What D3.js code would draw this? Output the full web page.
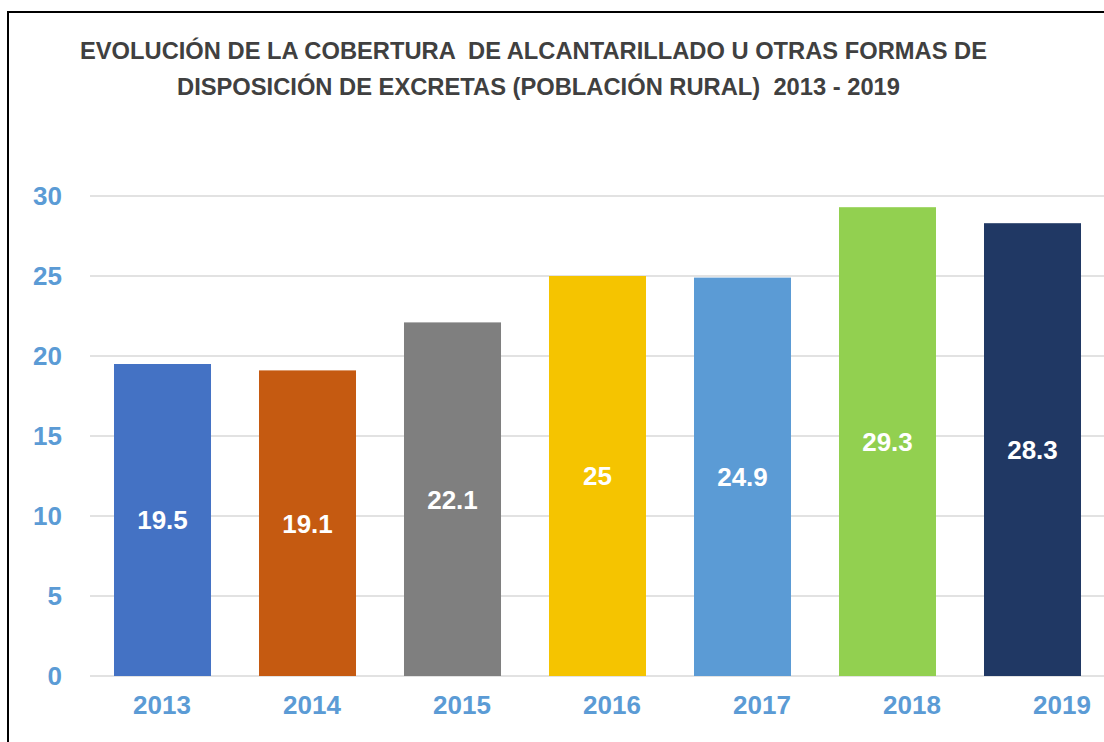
<!DOCTYPE html>
<html>
<head>
<meta charset="utf-8">
<script src="https://cdn.jsdelivr.net/npm/d3@7"></script>
<style>
  body { margin: 0; background: #fff; }
  svg text { font-family: "Liberation Sans", Arial, sans-serif; font-weight: bold; }
</style>
</head>
<body>
<div id="chart"></div>
<script>
// chart data
const years = ["2013", "2014", "2015", "2016", "2017", "2018", "2019"];
const coverage = [19.5, 19.1, 22.1, 25, 24.9, 29.3, 28.3];
const barColors = ["#4472C4", "#C55A11", "#7F7F7F", "#F5C400", "#5B9BD5", "#92D050", "#203864"];
const yTicks = [0, 5, 10, 15, 20, 25, 30];
const titleLines = [
  "EVOLUCIÓN DE LA COBERTURA  DE ALCANTARILLADO U OTRAS FORMAS DE",
  "DISPOSICIÓN DE EXCRETAS (POBLACIÓN RURAL)  2013 - 2019"
];

const width = 1104, height = 742;

const svg = d3.select("#chart")
  .append("svg")
  .attr("width", width)
  .attr("height", height);

// frame (only the left and top edges are visible)
svg.append("path")
  .attr("d", "M8,742 L8,12 L1104,12")
  .attr("fill", "none")
  .attr("stroke", "#000")
  .attr("stroke-width", 2);

// title
const titleSpans = [
  { x0: 80, x1: 987, y: 59 },
  { x0: 177, x1: 900, y: 95 }
];
svg.selectAll(".title")
  .data(titleLines)
  .enter().append("text")
  .attr("class", "title")
  .attr("x", (d, i) => titleSpans[i].x0)
  .attr("y", (d, i) => titleSpans[i].y)
  .attr("font-size", 23)
  .attr("fill", "#404040")
  .attr("textLength", (d, i) => titleSpans[i].x1 - titleSpans[i].x0)
  .attr("lengthAdjust", "spacingAndGlyphs")
  .style("white-space", "pre")
  .text(d => d);

// scales
const x = d3.scaleBand()
  .domain(years)
  .range([90, 1105])
  .paddingInner(0.331)
  .paddingOuter(0.1655);

// the category labels sit on a slightly wider pitch than the bars
const xLabels = d3.scaleBand()
  .domain(years)
  .range([87, 1137]);

const y = d3.scaleLinear()
  .domain([0, 30])
  .range([676, 196]);

// gridlines
svg.append("g")
  .selectAll("line")
  .data(yTicks)
  .enter().append("line")
  .attr("x1", 90)
  .attr("x2", width)
  .attr("y1", d => y(d))
  .attr("y2", d => y(d))
  .attr("stroke", "#D9D9D9")
  .attr("stroke-width", 1.5);

// y axis labels
const yAxis = svg.append("g")
  .attr("transform", "translate(62,0)")
  .call(d3.axisLeft(y).tickValues(yTicks).tickSize(0).tickPadding(0));
yAxis.select(".domain").remove();
yAxis.selectAll("text")
  .attr("font-size", 26)
  .attr("font-family", null)
  .attr("fill", "#5B9BD5");

// bars
svg.append("g")
  .selectAll("rect")
  .data(coverage)
  .enter().append("rect")
  .attr("x", (d, i) => x(years[i]))
  .attr("width", x.bandwidth())
  .attr("y", d => y(d))
  .attr("height", d => y(0) - y(d))
  .attr("fill", (d, i) => barColors[i]);

// value labels, centred inside each bar
svg.append("g")
  .selectAll("text")
  .data(coverage)
  .enter().append("text")
  .attr("x", (d, i) => x(years[i]) + x.bandwidth() / 2)
  .attr("y", d => (y(d) + y(0)) / 2)
  .attr("dy", "0.36em")
  .attr("text-anchor", "middle")
  .attr("font-size", 26)
  .attr("fill", "#fff")
  .text(d => d);

// x axis labels
const xAxis = svg.append("g")
  .attr("transform", "translate(0,676)")
  .call(d3.axisBottom(xLabels).tickSize(0).tickPadding(20));
xAxis.select(".domain").remove();
xAxis.selectAll("text")
  .attr("font-size", 26)
  .attr("font-family", null)
  .attr("fill", "#5B9BD5");
</script>
</body>
</html>
